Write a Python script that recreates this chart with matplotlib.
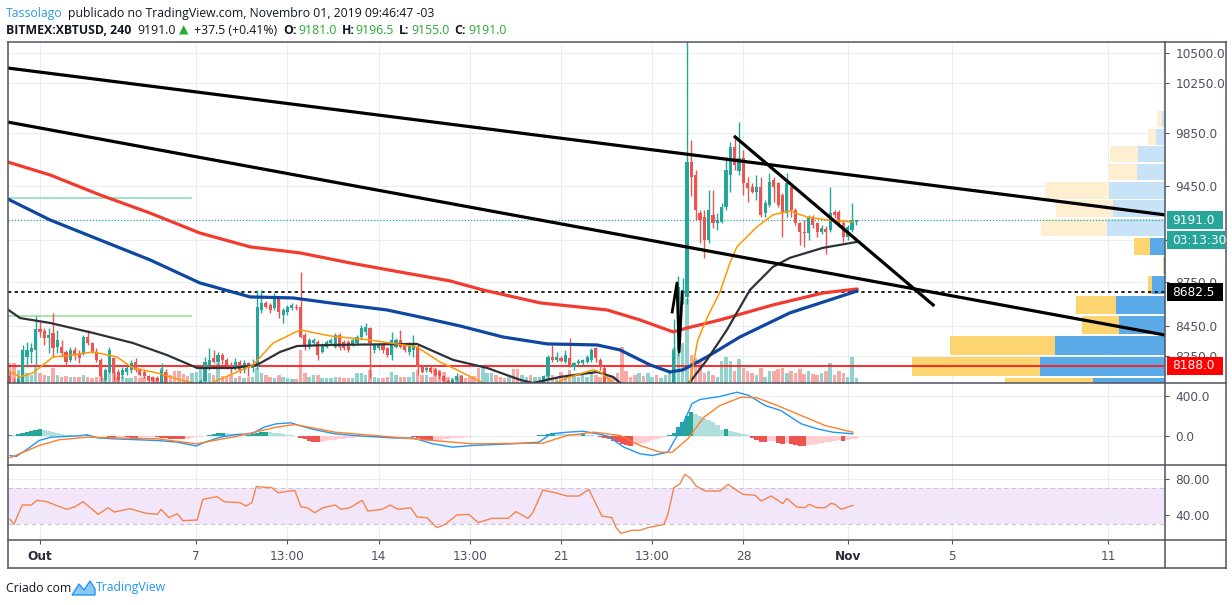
import numpy as np
import matplotlib
matplotlib.use("Agg")
import matplotlib.pyplot as plt
from matplotlib import font_manager
from matplotlib.patches import Rectangle, Polygon
from matplotlib.collections import PatchCollection
from matplotlib.lines import Line2D
from matplotlib.transforms import blended_transform_factory
from matplotlib.ticker import NullLocator

# BITMEX:XBTUSD, 240 min candles (29 Sep 20:00 .. 1 Nov 08:00)
opens = [8120, 8080, 8050, 8085, 8248, 8281, 8292, 8430, 8420, 8369,
         8402, 8314, 8314, 8281, 8227, 8292, 8270, 8270, 8380, 8336,
         8281, 8227, 8098, 8151, 8237, 8151, 8130, 8145, 8162, 8216,
         8162, 8151, 8119, 8114, 8108, 8064, 8151, 8064, 8020, 7960,
         7900, 7870, 7850, 7920, 7990, 8087, 8194, 8237, 8216, 8259,
         8227, 8194, 8173, 8216, 8162, 8205, 8173, 8183, 8560, 8606,
         8594, 8571, 8640, 8526, 8549, 8571, 8583, 8583, 8391, 8314,
         8336, 8347, 8281, 8314, 8336, 8314, 8391, 8347, 8347, 8325,
         8336, 8380, 8414, 8436, 8292, 8303, 8325, 8303, 8259, 8314,
         8358, 8325, 8281, 8292, 8314, 8183, 8162, 8173, 8162, 8151,
         8119, 8087, 8050, 8098, 8120, 8060, 8020, 7990, 7960, 7900,
         7950, 7990, 8030, 8000, 7970, 7940, 7980, 7950, 7920, 7960,
         8000, 7980, 8020, 8060, 8119, 8248, 8227, 8237, 8216, 8237,
         8183, 8205, 8205, 8216, 8227, 8303, 8227, 8173, 8064, 8000,
         7960, 7900, 7700, 7500, 7450, 7420, 7440, 7400, 7450, 7480,
         7430, 7460, 7480, 8000, 8292, 8640, 8650, 9630, 9530, 9245,
         9220, 9050, 9232, 9170, 9183, 9293, 9530, 9747, 9556, 9657,
         9467, 9442, 9405, 9442, 9245, 9305, 9492, 9467, 9380, 9245,
         9442, 9268, 9170, 9110, 9098, 9220, 9170, 9110, 9130, 9122,
         9256, 9256, 9170, 9074, 9122, 9181]
highs = [8150, 8110, 8130, 8325, 8347, 8336, 8519, 8480, 8435, 8441,
         8537, 8425, 8358, 8292, 8314, 8314, 8292, 8391, 8425, 8347,
         8303, 8237, 8173, 8314, 8248, 8165, 8180, 8190, 8227, 8237,
         8175, 8160, 8130, 8125, 8120, 8205, 8170, 8080, 8040, 7980,
         7930, 7890, 7940, 8010, 8100, 8248, 8303, 8292, 8280, 8270,
         8240, 8210, 8237, 8227, 8227, 8216, 8230, 8697, 8697, 8620,
         8610, 8674, 8651, 8571, 8594, 8606, 8600, 8825, 8402, 8370,
         8370, 8358, 8336, 8360, 8370, 8402, 8402, 8358, 8358, 8370,
         8390, 8458, 8469, 8447, 8336, 8336, 8336, 8314, 8414, 8370,
         8425, 8336, 8347, 8391, 8325, 8194, 8190, 8185, 8173, 8162,
         8130, 8100, 8110, 8140, 8130, 8075, 8040, 8010, 7980, 7970,
         8010, 8050, 8045, 8015, 7985, 8000, 7995, 7965, 7980, 8020,
         8015, 8040, 8080, 8130, 8259, 8325, 8281, 8250, 8292, 8369,
         8216, 8230, 8235, 8260, 8303, 8314, 8237, 8185, 8080, 8020,
         7980, 7910, 7720, 7530, 7480, 7470, 7460, 7480, 7500, 7490,
         7480, 7520, 8050, 8500, 8795, 8780, 10620, 9799, 9568, 9268,
         9268, 9417, 9417, 9245, 9320, 9670, 9786, 9825, 9942, 9721,
         9517, 9467, 9530, 9517, 9342, 9543, 9517, 9480, 9392, 9543,
         9455, 9280, 9183, 9195, 9232, 9232, 9183, 9160, 9150, 9442,
         9268, 9268, 9195, 9160, 9317, 9196.5]
lows = [8000, 8010, 8030, 8000, 8183, 8205, 8194, 8380, 8325, 8272,
        8248, 8270, 8248, 8194, 8216, 8227, 8205, 8259, 8325, 8270,
        8216, 8087, 8064, 8141, 8087, 8080, 8110, 8130, 8140, 8151,
        8120, 8110, 8085, 8075, 8070, 8040, 8020, 8000, 7940, 7880,
        7850, 7820, 7840, 7900, 7970, 8070, 8162, 8205, 8200, 8200,
        8170, 8140, 8160, 8140, 8140, 8120, 8150, 8170, 8537, 8570,
        8540, 8560, 8503, 8469, 8526, 8560, 8560, 8369, 8292, 8300,
        8325, 8227, 8270, 8303, 8325, 8303, 8292, 8290, 8281, 8315,
        8325, 8358, 8391, 8109, 8270, 8292, 8270, 8248, 8227, 8303,
        8303, 8281, 8259, 8248, 8130, 8140, 8150, 8140, 8120, 8100,
        8070, 8030, 8040, 8080, 8040, 8000, 7970, 7940, 7870, 7880,
        7930, 7970, 7980, 7950, 7920, 7925, 7930, 7900, 7905, 7945,
        7960, 7965, 8005, 8045, 8100, 8216, 8216, 8210, 8205, 8183,
        8162, 8195, 8195, 8205, 8216, 8216, 8162, 8040, 7980, 7940,
        7880, 7650, 7450, 7400, 7380, 7400, 7360, 7390, 7430, 7400,
        7410, 7440, 7470, 7980, 8250, 8600, 8600, 9374, 9195, 9026,
        8920, 9026, 9135, 9122, 9170, 9268, 9405, 9568, 9530, 9380,
        9330, 9392, 9342, 9220, 9220, 9293, 9330, 9293, 9074, 9220,
        9220, 9159, 9014, 9002, 9050, 9135, 9074, 9090, 8950, 9110,
        9210, 9147, 9038, 9050, 9110, 9155]
closes = [8080, 8050, 8100, 8292, 8292, 8303, 8430, 8414, 8369, 8391,
          8303, 8358, 8270, 8216, 8292, 8259, 8237, 8380, 8336, 8281,
          8227, 8119, 8162, 8292, 8141, 8098, 8162, 8173, 8205, 8162,
          8130, 8119, 8098, 8087, 8087, 8162, 8064, 8020, 7960, 7900,
          7870, 7850, 7920, 7990, 8087, 8216, 8227, 8216, 8259, 8227,
          8194, 8173, 8216, 8162, 8205, 8173, 8194, 8583, 8606, 8583,
          8560, 8651, 8549, 8560, 8583, 8594, 8571, 8380, 8314, 8358,
          8358, 8259, 8325, 8347, 8358, 8391, 8314, 8303, 8292, 8358,
          8380, 8436, 8447, 8336, 8325, 8325, 8292, 8259, 8358, 8358,
          8314, 8292, 8336, 8325, 8183, 8151, 8173, 8151, 8130, 8119,
          8087, 8050, 8098, 8120, 8060, 8020, 7990, 7960, 7900, 7950,
          7990, 8030, 8000, 7970, 7940, 7980, 7950, 7920, 7960, 8000,
          7980, 8020, 8060, 8119, 8248, 8227, 8248, 8222, 8259, 8194,
          8205, 8220, 8227, 8248, 8292, 8237, 8194, 8064, 8000, 7960,
          7900, 7700, 7500, 7450, 7420, 7440, 7400, 7450, 7480, 7430,
          7460, 7480, 8000, 8292, 8720, 8700, 9630, 9517, 9268, 9195,
          9050, 9268, 9170, 9195, 9293, 9568, 9747, 9606, 9657, 9467,
          9430, 9405, 9442, 9232, 9317, 9479, 9442, 9305, 9245, 9467,
          9268, 9170, 9110, 9098, 9220, 9159, 9110, 9135, 9110, 9245,
          9232, 9159, 9074, 9147, 9195, 9191]
volume = [200, 200, 130, 60, 100, 80, 180, 100, 80, 70,
          150, 80, 60, 70, 60, 60, 60, 80, 60, 50,
          60, 80, 50, 110, 100, 60, 60, 50, 50, 70,
          50, 60, 60, 50, 50, 150, 110, 80, 120, 120,
          90, 70, 100, 110, 140, 180, 100, 80, 200, 70,
          60, 80, 50, 70, 50, 60, 60, 150, 100, 80,
          60, 50, 80, 60, 50, 40, 40, 330, 100, 60,
          80, 80, 50, 50, 50, 60, 60, 50, 50, 50,
          100, 100, 80, 130, 60, 50, 50, 60, 110, 80,
          60, 60, 60, 110, 130, 80, 80, 60, 150, 130,
          110, 60, 50, 60, 80, 50, 60, 70, 150, 150,
          100, 100, 80, 60, 50, 60, 140, 140, 80, 60,
          80, 60, 60, 70, 260, 80, 60, 110, 70, 130,
          70, 60, 80, 60, 100, 80, 60, 130, 80, 60,
          100, 360, 120, 60, 80, 100, 70, 100, 60, 80,
          50, 80, 120, 350, 300, 400, 840, 280, 250, 220,
          100, 120, 80, 60, 220, 260, 220, 120, 240, 150,
          120, 100, 80, 150, 60, 120, 120, 140, 150, 100,
          120, 100, 140, 90, 120, 90, 80, 100, 120, 200,
          80, 120, 100, 60, 260, 50]
macd_hist = [12, 10, 20, 35, 45, 55, 63, 68, 65, 55,
             45, 35, 25, 15, 8, 3, 0, 4, 6, 3,
             1, -2, -4, -10, -15, -12, -10, -12, -15, -18,
             -15, -12, -10, -8, -12, -15, -20, -25, -28, -30,
             -32, -30, -22, -12, -5, 5, 15, 22, 28, 30,
             26, 22, 18, 15, 12, 14, 22, 30, 38, 42,
             38, 32, 26, 20, 14, 8, 3, -15, -30, -45,
             -55, -60, -58, -50, -42, -35, -30, -25, -20, -15,
             -10, -8, -5, -3, -5, -8, -10, -8, -5, -3,
             -2, 2, 3, -10, -20, -30, -38, -45, -42, -38,
             -32, -28, -24, -20, -15, -10, -6, -3, -2, 0,
             2, 3, 2, 1, -1, -2, -1, 1, 2, 3,
             2, 4, 6, 15, 25, 33, 30, 28, 25, 22,
             20, 18, 22, 15, 10, 5, -5, -15, -30, -45,
             -60, -75, -85, -95, -90, -80, -70, -55, -40, -28,
             -15, -5, 10, 35, 90, 140, 200, 245, 225, 205,
             185, 160, 140, 115, 65, 72, 55, 42, 30, 18,
             8, -20, -40, -55, -60, -50, -45, -65, -75, -65,
             -80, -90, -95, -98, -90, -85, -78, -70, -62, -55,
             -45, -38, -45, -38, -32, -28]

# moving averages, sampled at candle positions
red_ma_idx = [-0.4, 9.3, 20.8, 32.3, 43.8, 55.4, 66.9, 78.4, 89.9, 101.4, 109.0,
              122.2, 137.6, 145.2, 152.8, 156.0, 163.6, 175.8, 187.3, 195.2]
red_ma = [9628, 9530, 9380, 9246, 9100, 9000, 8957, 8886, 8822, 8760, 8697,
          8608, 8560, 8492, 8412, 8438, 8492, 8594, 8676, 8704]
blue_ma_idx = [-0.4, 9.3, 20.8, 32.3, 43.8, 55.4, 65.3, 73.8, 86.9, 94.5, 103.7,
               113.6, 123.8, 135.3, 140.6, 147.5, 152.1, 155.1, 160.6, 168.2, 179.7, 195.2]
blue_ma = [9349, 9195, 9050, 8908, 8746, 8649, 8642, 8608, 8560, 8512, 8452,
           8378, 8332, 8325, 8292, 8194, 8148, 8162, 8246, 8378, 8540, 8690]
black_ma_idx = [-0.6, 2.4, 9.3, 19.2, 28.4, 36.2, 43.2, 51.5, 57.0, 62.3, 66.2, 73.8,
                93.8, 102.1, 110.0, 117.5, 120.5, 126.8, 135.3, 139.0, 144.0, 149.8,
                156.7, 160.6, 165.2, 170.5, 175.8, 179.7, 187.3, 195.2]
black_ma = [8567, 8505, 8472, 8405, 8338, 8259, 8174, 8174, 8194, 8279, 8318, 8325,
            8332, 8227, 8174, 8098, 8077, 8116, 8148, 8116, 8000, 7950,
            8083, 8227, 8425, 8697, 8858, 8922, 8993, 9036]
orange_ma_idx = [-0.6, 2.4, 5.4, 10.0, 14.6, 19.2, 24.7, 28.4, 34.0, 39.2, 45.0, 50.8,
                 56.1, 60.7, 66.9, 73.8, 83.0, 93.8, 99.1, 103.0, 106.7, 112.9, 122.2,
                 128.4, 134.4, 136.0, 137.6, 141.7, 148.6, 154.4, 156.7, 158.5, 160.6,
                 163.6, 165.9, 167.5, 172.1, 175.8, 179.7, 183.6, 188.0, 194.2]
orange_ma = [8162, 8116, 8142, 8246, 8259, 8279, 8246, 8174, 8142, 8098, 8060, 8129,
             8194, 8338, 8425, 8385, 8358, 8312, 8213, 8162, 8110, 8020, 8030,
             8110, 8162, 8148, 8110, 8000, 7700, 7900, 8083, 8358, 8505,
             8683, 8886, 9000, 9144, 9232, 9261, 9217, 9195, 9180]

macd_idx = [0.1, 1.5, 4.2, 6.8, 9.5, 16.0, 17.8, 20.4, 25.0, 34.0, 38.6, 43.0, 45.0,
            48.5, 52.1, 55.8, 58.6, 61.4, 64.8, 66.7, 70.3, 75.0, 79.3, 88.5, 92.9,
            97.5, 102.1, 106.5, 115.7, 121.9, 124.7, 128.4, 132.1, 134.6, 137.8,
            141.5, 145.2, 148.0, 151.6, 154.4, 157.2, 159.0, 163.6, 167.5, 170.3,
            174.0, 177.6, 182.3, 186.0, 189.6, 194.2]
macd_line = [-195, -205, -128, -45, -12, 2, 12, -20, -30, -45, -62, -100, -62,
             -12, 15, 22, 88, 122, 132, 105, 62, 22, 5, -20, -20,
             -78, -112, -95, -78, -62, 22, 38, 48, 28, -2,
             -112, -178, -195, -162, 55, 325, 365, 395, 438, 405,
             305, 255, 122, 72, 38, 22]
signal_idx = [0.1, 6.8, 11.4, 17.8, 34.0, 43.0, 52.1, 61.4, 65.7, 75.0, 83.9, 97.5,
              106.5, 122.8, 128.4, 134.6, 140.6, 145.2, 149.8, 152.6, 156.2, 159.9,
              163.6, 168.5, 172.1, 176.8, 182.3, 187.8, 194.2]
signal_line = [-218, -95, -38, -12, -28, -78, -5, 88, 115, 38, 5, -45,
               -78, -72, 5, 38, 5, -95, -162, -162, -28, 188,
               305, 388, 382, 305, 205, 105, 38]

rsi_idx = [0.1, 1.0, 2.9, 5.0, 6.3, 8.6, 10.5, 13.2, 15.1, 16.9,
           20.4, 22.7, 24.1, 27.7, 31.4, 34.0, 34.9, 36.7, 38.6, 39.9,
           43.2, 44.5, 47.8, 49.4, 53.1, 54.4, 55.8, 56.8, 60.4, 61.8,
           65.7, 67.1, 68.5, 70.3, 72.2, 75.0, 76.3, 78.4, 81.2, 82.5,
           85.8, 87.6, 89.5, 92.4, 93.8, 96.1, 98.4, 100.3, 103.0, 105.8,
           107.9, 111.1, 114.8, 116.6, 119.4, 120.5, 122.8, 125.6, 128.4, 131.1,
           133.4, 136.4, 138.7, 139.7, 140.8, 143.3, 145.2, 147.0, 150.7, 151.6,
           153.0, 154.4, 155.5, 156.7, 158.1, 160.2, 163.6, 165.5, 167.1, 168.9,
           171.7, 173.1, 175.4, 178.1, 179.0, 181.3, 183.2, 184.1, 186.0, 187.8,
           189.2, 190.1, 191.5, 194.2]
rsi_vals = [35.2, 29.6, 51.1, 51.1, 56.3, 54.8, 51.1, 46.3, 49.3, 54.8,
            40.7, 48.1, 43.3, 47.0, 41.9, 40.7, 46.3, 37.0, 41.5, 33.7,
            34.4, 57.4, 60.4, 54.8, 53.7, 50.0, 53.7, 71.5, 70.4, 64.8,
            67.4, 48.9, 48.1, 42.6, 48.1, 51.1, 46.3, 48.1, 56.3, 44.4,
            46.3, 51.1, 46.3, 48.1, 37.8, 37.0, 25.9, 29.6, 40.0, 40.7,
            31.5, 36.3, 36.3, 43.7, 36.3, 42.6, 67.8, 64.8, 61.1, 61.1,
            68.5, 38.9, 37.0, 25.9, 19.6, 23.0, 23.0, 25.9, 29.6, 40.7,
            70.4, 74.8, 85.2, 81.5, 72.2, 66.7, 66.7, 74.1, 68.5, 63.0,
            61.9, 55.6, 61.1, 52.6, 58.5, 48.9, 48.1, 51.9, 48.1, 48.1,
            53.0, 51.9, 46.3, 50.7]

# drawings (candle index, price)
trend_upper = [(-0.6, 10376), (266.1, 9232)]
trend_lower = [(-0.6, 9940), (266.1, 8391)]
trend_wedge = [(167.1, 9822), (212.7, 8594)]
pump_mark_idx = [152.6, 153.7, 154.2, 154.9]
pump_mark = [8546, 8746, 8279, 8683]
green_levels = [9357, 8519]
green_level_end = 41.8
last_price = 9191.0
dotted_level = 8682.5
red_level = 8188.0

# volume profile (bin bottoms, up / down volume)
vp_bottoms = [7985, 8122, 8259, 8395, 8532, 8669, 8805, 8942, 9078, 9215,
              9352, 9488, 9625, 9761, 9898, 10035, 10171, 10308, 10444]
vp_up = [72, 125, 110, 46, 49, 13, 1, 15, 58, 52, 56, 28, 27, 9, 3, 0.5, 1, 1, 1]
vp_down = [88, 128, 105, 37, 40, 4, 1, 16, 66, 57, 64, 28, 28, 8, 5, 1.5, 1.5, 1, 1]
vp_value_area = (0, 7)

price_ticks = [8250, 8450, 8750, 9050, 9450, 9850, 10250, 10500]
price_tick_labels = ['8250.0', '8450.0', '8750.0', '', '9450.0', '9850.0', '10250.0', '10500.0']
time_tick_idx = [7, 43, 64, 85, 106, 127, 148, 169, 193, 217, 253]
time_tick_labels = ['Out', '7', '13:00', '14', '13:00', '21', '13:00', '28', 'Nov', '5', '11']

TEAL, RED = '#26a69a', '#ef5350'
GRID = '#e9eef3'
FRAME = '#50535e'
LABEL = '#4c525e'
DARK = '#131722'
GREEN = '#22ab2e'

W, H = 1232, 605


def fx(x):
    return x / W


def fy(y):
    return 1 - y / H


names = {f.name for f in font_manager.fontManager.ttflist}
HEAD = 'Liberation Sans Narrow' if 'Liberation Sans Narrow' in names else 'Open Sans'
HEAD_FAMILY = [HEAD, 'DejaVu Sans']

fig = plt.figure(figsize=(W / 100, H / 100), dpi=100, facecolor='white')
L, R = 8, 1165
ax = fig.add_axes([fx(L), fy(383), (R - L) / W, (383 - 42) / H])
macd_ax = fig.add_axes([fx(L), fy(465), (R - L) / W, (465 - 383) / H], sharex=ax)
rsi_ax = fig.add_axes([fx(L), fy(540), (R - L) / W, (540 - 465) / H], sharex=ax)

ax.set_yscale('log')
ax.set_ylim(8077, 10592)
ax.set_xlim(-0.37, 266.1)
macd_ax.set_ylim(-290, 530)
rsi_ax.set_ylim(12.2, 95.6)

for a in (ax, macd_ax, rsi_ax):
    for s in a.spines.values():
        s.set_visible(False)
    a.set_axisbelow(True)
    a.grid(True, color=GRID, lw=0.8)
    a.yaxis.tick_right()
    a.tick_params(axis='y', length=3, pad=4.5, labelsize=8.7, colors=FRAME, labelcolor=LABEL)

ax.set_xticks(time_tick_idx)
ax.tick_params(axis='x', length=0, labelbottom=False)
macd_ax.tick_params(axis='x', length=0, labelbottom=False)
rsi_ax.tick_params(axis='x', length=3, pad=4.5, labelsize=8.7, colors=FRAME, labelcolor=LABEL)
rsi_ax.set_xticklabels(time_tick_labels)
for lab in rsi_ax.get_xticklabels():
    if lab.get_text() in ('Out', 'Nov'):
        lab.set_fontweight('bold')
        lab.set_color('#2a2e39')

ax.set_yticks(price_ticks)
ax.set_yticklabels(price_tick_labels)
ax.yaxis.set_minor_locator(NullLocator())
macd_ax.set_yticks([0, 400])
macd_ax.set_yticklabels(['0.0', '400.0'])
rsi_ax.set_yticks([40, 80])
rsi_ax.set_yticklabels(['40.00', '80.00'])

renderer = fig.canvas.get_renderer()

# volume profile on the right of the price pane
tr_vp = blended_transform_factory(ax.transAxes, ax.transData)
ax_w = ax.get_window_extent(renderer).width
for k, lo in enumerate(vp_bottoms):
    hi = vp_bottoms[k + 1] if k + 1 < len(vp_bottoms) else lo + (lo - vp_bottoms[k - 1])
    hgt = (hi - lo) * 0.92
    inside = vp_value_area[0] <= k <= vp_value_area[1]
    c_up = '#5aaae8' if inside else '#c8e3f8'
    c_dn = '#fcd470' if inside else '#fdefd0'
    uw, dw = vp_up[k] / ax_w, vp_down[k] / ax_w
    ax.add_patch(Rectangle((1 - uw, lo), uw, hgt, transform=tr_vp, facecolor=c_up, lw=0, zorder=1))
    ax.add_patch(Rectangle((1 - uw - dw, lo), dw, hgt, transform=tr_vp, facecolor=c_dn, lw=0, zorder=1))

# volume bars
cx = np.arange(len(closes))
o, hi_, lo_, c = map(np.array, (opens, highs, lows, closes))
up = c >= o
VOL_TOP = 3410
tr_vol = blended_transform_factory(ax.transData, ax.transAxes)
vrects = [Rectangle((i - 0.4, 0), 0.8, v / VOL_TOP) for i, v in zip(cx, volume)]
vcols = ['#92d2cc' if u else '#f7a9a7' for u in up]
ax.add_collection(PatchCollection(vrects, facecolors=vcols, edgecolors='none',
                                  transform=tr_vol, zorder=1.2), autolim=False)

# level lines
ax.axhline(last_price, color=TEAL, lw=0.9, ls=(0, (1, 1.5)), zorder=2)
ax.axhline(dotted_level, color='black', lw=1.2, ls=(0, (2, 2)), zorder=2)
ax.axhline(red_level, color='#ff1a1a', lw=1.3, zorder=2)
ax.plot([-0.6, green_level_end], [green_levels[0]] * 2, color='#86dcb8', lw=1.1, zorder=2)
ax.plot([-0.6, green_level_end], [green_levels[1]] * 2, color='#8fdc8f', lw=1.1, zorder=2)

# candles
ccol = np.where(up, TEAL, RED)
ax.vlines(cx, lo_, hi_, colors=ccol, lw=1.0, zorder=3)
body_lo = np.minimum(o, c)
body_h = np.maximum(np.abs(c - o), 3.0)
ax.bar(cx, body_h, bottom=body_lo, width=0.72, color=ccol, lw=0, zorder=3.1)

# moving averages
ax.plot(red_ma_idx, red_ma, color='#f23b2f', lw=2.3, zorder=4, solid_capstyle='round')
ax.plot(blue_ma_idx, blue_ma, color='#0d47a1', lw=2.3, zorder=4, solid_capstyle='round')
ax.plot(black_ma_idx, black_ma, color='#2e313a', lw=1.6, zorder=4)
ax.plot(orange_ma_idx, orange_ma, color='#ff9800', lw=1.1, zorder=4.1)

# trend lines
for seg in (trend_upper, trend_lower, trend_wedge):
    ax.plot([seg[0][0], seg[1][0]], [seg[0][1], seg[1][1]], color='black', lw=2.3, zorder=5)
ax.plot(pump_mark_idx, pump_mark, color='black', lw=2.0, zorder=5)

# MACD pane
hcols = []
for k, v in enumerate(macd_hist):
    prev = macd_hist[k - 1] if k else v
    if v >= 0:
        hcols.append('#26a69a' if v >= prev else '#b2dfdb')
    else:
        hcols.append('#ffcdd2' if v > prev else '#ef5350')
macd_ax.bar(cx, macd_hist, width=1.0, color=hcols, lw=0, zorder=2)
macd_ax.plot(macd_idx, macd_line, color='#2196f3', lw=1.0, zorder=3)
macd_ax.plot(signal_idx, signal_line, color='#ff7f2a', lw=1.0, zorder=3)

# RSI pane
rsi_ax.axhspan(30, 70, color='#f3e6fb', zorder=0.3, lw=0)
for lv in (30, 70):
    rsi_ax.axhline(lv, color='#c9c4cf', lw=0.8, ls=(0, (4, 3)), zorder=1)
rsi_ax.plot(rsi_idx, rsi_vals, color='#f5844a', lw=1.0, zorder=3)


# frame
def hline(y, x0=8, x1=1226):
    fig.add_artist(Line2D([fx(x0), fx(x1)], [fy(y), fy(y)], color=FRAME, lw=1.1,
                          transform=fig.transFigure))


def vline(x, y0=42, y1=568):
    fig.add_artist(Line2D([fx(x), fx(x)], [fy(y0), fy(y1)], color=FRAME, lw=1.1,
                          transform=fig.transFigure))


for yy in (42, 383, 465, 540, 568):
    hline(yy)
for xx in (8, 1165, 1226):
    vline(xx)


# price boxes on the right axis
def price_box(price, text, face, dy=0, width=56):
    ypix = H - ax.transData.transform((0, price))[1] + dy
    fig.add_artist(Rectangle((fx(1167), fy(ypix + 9)), width / W, 18 / H, facecolor=face,
                             lw=0, transform=fig.transFigure, zorder=5))
    fig.text(fx(1172), fy(ypix), text, color='white', fontsize=8.7, va='center', ha='left',
             zorder=6)


price_box(last_price, '9191.0', '#26a69a')
price_box(last_price, '03:13:30', '#26a69a', dy=20, width=58)
price_box(dotted_level, '8682.5', '#000000')
price_box(red_level, '8188.0', '#ff0000')

# header, each piece at the x where the reference shows it
row1 = [(6, 'Tassolago', '#2f9be8', 'normal'),
        (68, 'publicado no TradingView.com, Novembro 01, 2019 09:46:47 -03', DARK, 'normal')]
row2 = [(6, 'BITMEX:XBTUSD, 240', DARK, 'bold'), (137, '9191.0', DARK, 'normal'),
        (179, '\u25b2', GREEN, 'normal'), (194, '+37.5 (+0.41%)', DARK, 'normal'),
        (283, 'O:', DARK, 'bold'), (298, '9181.0', GREEN, 'normal'),
        (342, 'H:', DARK, 'bold'), (355, '9196.5', GREEN, 'normal'),
        (399, 'L:', DARK, 'bold'), (411, '9155.0', GREEN, 'normal'),
        (454, 'C:', DARK, 'bold'), (468, '9191.0', GREEN, 'normal')]

probe = fig.text(0, 0, row1[1][1], fontsize=10, family=HEAD_FAMILY)
head_size = 10 * (434 - 68) / probe.get_window_extent(renderer).width
probe.remove()


def text_row(y, pieces, size):
    for x, txt, color, weight in pieces:
        fig.text(fx(x), fy(y), txt, color=color, fontsize=size, fontweight=weight,
                 family=HEAD_FAMILY, ha='left', va='center')


text_row(14, row1, head_size)
text_row(30, row2, head_size)

# footer
text_row(588, [(6, 'Criado com', DARK, 'normal')], head_size)
fig.add_artist(Polygon([(fx(72), fy(595)), (fx(79), fy(584)), (fx(84), fy(590)), (fx(90), fy(581)),
                        (fx(95), fy(589)), (fx(95), fy(595))], closed=True, facecolor='#8cc8f4',
                       edgecolor='#2196f3', lw=1.0, transform=fig.transFigure))
text_row(588, [(96, 'TradingView', '#2196f3', 'normal')], head_size)

fig.savefig('out.png', dpi=100, facecolor='white')
